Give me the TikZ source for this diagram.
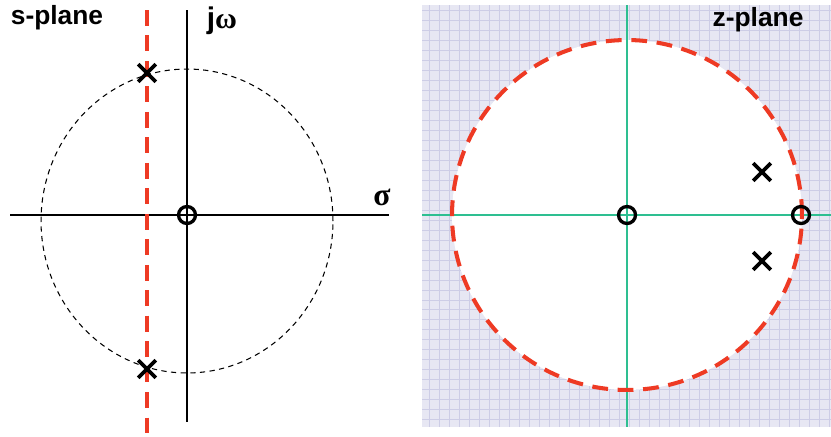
\documentclass[tikz,border=0pt]{standalone}
\usepackage{fontspec}
\setmainfont{Liberation Sans}
\newfontfamily\greekserif{Liberation Serif}
\usetikzlibrary{shapes.misc}
\definecolor{redline}{HTML}{EE3A24}
\definecolor{axgreen}{HTML}{2EBF91}
\definecolor{paper}{HTML}{E7E7F3}
\definecolor{gridline}{HTML}{CDCDE6}

\begin{document}
\begin{tikzpicture}[x=0.02cm,y=-0.02cm,font=\fontsize{15}{18}\selectfont\bfseries,axis/.style={black,line width=1.5pt},zaxis/.style={axgreen,line width=1.5pt},cut/.style={redline,line width=1.9pt,dash pattern=on 9pt off 5.5pt},pole/.style={cross out,draw=black,line width=2.1pt,minimum size=0.28cm,inner sep=0pt},zero/.style={circle,draw=black,line width=1.9pt,minimum size=0.34cm,inner sep=0pt}]
 \useasboundingbox (0,0) rectangle (831,436);
 \fill[paper] (422,5) rectangle (831,427);
 \draw[gridline,line width=0.5pt,step=0.2cm] (422,5) grid (831,427);
 \fill[white] (627,215) circle (3.5cm);
 \coordinate (zl) at (422,215); \coordinate (zr) at (831,215);
 \coordinate (zt) at (627,5); \coordinate (zb) at (627,427);
 \draw[zaxis] (zl)--(zr);
 \draw[zaxis] (zt)--(zb);
 \draw[cut,line width=2.3pt] (627,215) circle (3.5cm);
 \node (z0) [zero] at (627,215) {};
 \node (z1) [zero] at (801,215) {};
 \node (p1) [pole] at (762,172) {};
 \node (p2) [pole] at (762,261) {};
 \node (zname) at (758,20) {z-plane};
 \draw[black,line width=0.6pt,dash pattern=on 3pt off 2.5pt] (187,221) ellipse (2.92cm and 3.04cm);
 \coordinate (sl) at (10,215); \coordinate (sr) at (389,215);
 \coordinate (st) at (187,10); \coordinate (sb) at (187,422);
 \coordinate (ct) at (147,10); \coordinate (cb) at (147,436);
 \draw[axis] (sl)--(sr);
 \draw[axis] (st)--(sb);
 \draw[cut] (ct)--(cb);
 \node (s0) [zero] at (187,215) {};
 \node (q1) [pole] at (147,73) {};
 \node (q2) [pole] at (147,369) {};
 \node (sname) at (57,18) {s-plane};
 \node (jw) at (222,21) {\fontsize{17}{20}\selectfont j\greekserif ω};
 \node (sig) at (382,197) {\fontsize{18}{20}\selectfont\greekserif σ};
\end{tikzpicture}
\end{document}
